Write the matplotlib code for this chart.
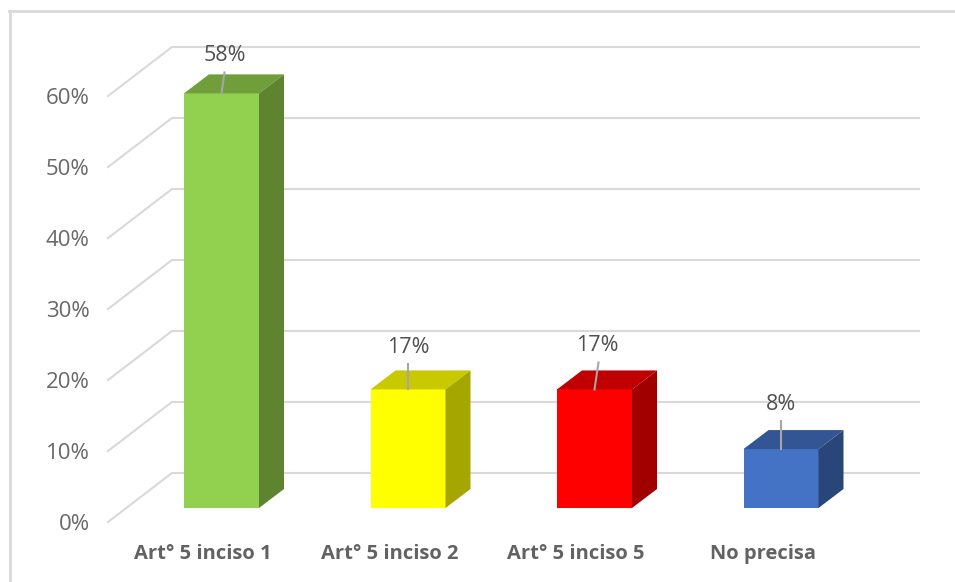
import matplotlib
matplotlib.use('Agg')
import matplotlib.pyplot as plt
from matplotlib.patches import Polygon

categories = ['Art° 5 inciso 1', 'Art° 5 inciso 2', 'Art° 5 inciso 5', 'No precisa']
values = [58.4, 16.7, 16.7, 8.3]
ticks = [0, 10, 20, 30, 40, 50, 60]
front_colors = ['#92D050', '#FFFF00', '#FF0000', '#4472C4']
top_colors = ['#6F9E3B', '#C9C900', '#C00000', '#335593']
side_colors = ['#5E8430', '#A6A600', '#A00000', '#284678']

W, H = 955, 582
plt.rcParams['font.family'] = ['Open Sans', 'DejaVu Sans']
fig = plt.figure(figsize=(W / 100, H / 100), dpi=100)
ax = fig.add_axes([0, 0, 1, 1])

# pixel calibration of the data scales
px_x = 186.5   # per category
px_y = 7.1     # per percent
ax.set_xlim(-221.5 / px_x, (W - 221.5) / px_x)
ax.set_ylim(-(H - 508) / px_y, 508 / px_y)
ax.axis('off')

bar_w = 75 / px_x
dx, dy = 25 / px_x, 19 / px_y   # bar depth

# ******** walls ********
x_front = (108 - 221.5) / px_x
x_back = (172 - 221.5) / px_x
x_end = (919 - 221.5) / px_x
y_front = -14 / px_y
y_back = 35 / px_y
for t in ticks:
    ax.plot([x_front, x_back, x_end], [t + y_front, t + y_back, t + y_back],
            color='#D9D9D9', lw=1.5, solid_joinstyle='miter', zorder=1)
    ax.text((89.5 - 221.5) / px_x, t - 16.5 / px_y, '%d%%' % t, ha='right', va='center',
            color='#686868', fontsize=16)

# ******** bars ********
label_shift = [(3, 21, 3, 38), (0, 25, 0, 42), (4, 27, 3, 44), (0, 28, 0, 45)]
for i, v in enumerate(values):
    l, r = i - bar_w / 2, i + bar_w / 2
    ax.bar(i, v, bar_w, color=front_colors[i], zorder=3)
    ax.add_patch(Polygon([(l, v), (r, v), (r + dx, v + dy), (l + dx, v + dy)],
                         fc=top_colors[i], ec='none', zorder=3))
    ax.add_patch(Polygon([(r, 0), (r + dx, dy), (r + dx, v + dy), (r, v)],
                         fc=side_colors[i], ec='none', zorder=3))
    lx, ly, tx, ty = label_shift[i]
    ax.plot([i, i + lx / px_x], [v, v + ly / px_y], color='#A6A6A6', lw=1.5, zorder=4)
    ax.text(i + tx / px_x, v + ty / px_y, '%.0f%%' % v, ha='center', va='center',
            color='#505050', fontsize=15.5, zorder=5)
    ax.text(i - 18.5 / px_x, -46 / px_y, categories[i], ha='center', va='center',
            color='#626262', fontsize=14.5, fontweight='bold')

# ******** frame of the picture ********
fig.add_artist(plt.Line2D([9.5 / W, 9.5 / W], [0, 1 - 11 / H], color='#D9D9D9', lw=2))
fig.add_artist(plt.Line2D([9 / W, 1], [1 - 11 / H, 1 - 11 / H], color='#D9D9D9', lw=2))

fig.savefig('out.png', dpi=100)
